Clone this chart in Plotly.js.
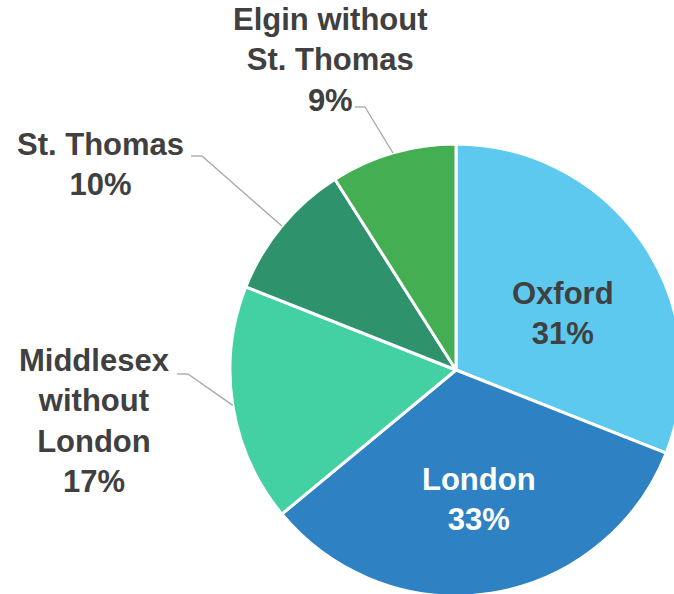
<!DOCTYPE html>
<html>
<head>
<meta charset="utf-8">
<script src="https://cdn.plot.ly/plotly-3.0.1.min.js"></script>
<style>
html,body{margin:0;padding:0;overflow:hidden;background:#fff;}
#chart{width:700px;height:620px;}
</style>
</head>
<body>
<div id="chart"></div>
<script>
// ---- data ----
var labels = ["Oxford", "London", "Middlesex<br>without<br>London", "St. Thomas", "Elgin without<br>St. Thomas"];
var values = [31, 33, 17, 10, 9];
var colors = ["#5DC9EF", "#2E82C3", "#43D0A2", "#2E936C", "#43AF52"];
var labelColors = ["#404040", "#FFFFFF", "#404040", "#404040", "#404040"];

// ---- layout helpers (pixel -> paper) ----
var W = 700, H = 620;
var CX = 456, CY = 370, R = 226;
function px(x){ return x / W; }
function py(y){ return 1 - y / H; }

// label placement (style): text centre, and leader elbow points for outside labels
var place = {
  0: {tx: 563, ty: 313},
  1: {tx: 479, ty: 499},
  2: {tx: 95,  ty: 421, sx: 177, ex: 188, ly: 374},
  3: {tx: 100, ty: 164, sx: 191, ex: 202, ly: 156},
  4: {tx: 330, ty: 60,  sx: 355, ex: 365, ly: 107}
};

var total = values.reduce(function(a,b){return a+b;}, 0);
var annotations = [], shapes = [];
var cum = 0;
for (var i = 0; i < values.length; i++) {
  var mid = (cum + values[i] / 2) / total * 2 * Math.PI;
  cum += values[i];
  var o = place[i];
  var pct = Math.round(values[i] / total * 100) + "%";
  annotations.push({
    xref: "paper", yref: "paper", x: px(o.tx), y: py(o.ty),
    xanchor: "center", yanchor: "middle", align: "center",
    showarrow: false,
    text: labels[i] + "<br>" + pct,
    font: {family: "Liberation Sans, Arial, sans-serif", size: 31, color: labelColors[i], weight: 700}
  });
  if (o.sx === undefined) continue;
  var edgeX = CX + R * Math.sin(mid), edgeY = CY - R * Math.cos(mid);
  var lineStyle = {color: "#A6A6A6", width: 1.3};
  shapes.push({type: "line", xref: "paper", yref: "paper",
    x0: px(o.sx), y0: py(o.ly), x1: px(o.ex), y1: py(o.ly), line: lineStyle});
  shapes.push({type: "line", xref: "paper", yref: "paper",
    x0: px(o.ex), y0: py(o.ly), x1: px(edgeX), y1: py(edgeY), line: lineStyle});
}

var trace = {
  type: "pie",
  labels: labels,
  values: values,
  sort: false,
  direction: "clockwise",
  rotation: 0,
  marker: {colors: colors, line: {color: "#FFFFFF", width: 3}},
  textinfo: "none",
  hoverinfo: "label+percent",
  domain: {x: [px(CX - R), px(CX + R)], y: [py(CY + R), py(CY - R)]},
  automargin: false,
  showlegend: false
};

var layout = {
  width: W, height: H,
  margin: {l: 0, r: 0, t: 0, b: 0},
  paper_bgcolor: "#FFFFFF",
  showlegend: false,
  annotations: annotations,
  shapes: shapes
};

Plotly.newPlot("chart", [trace], layout, {displayModeBar: false, staticPlot: true});
</script>
</body>
</html>
